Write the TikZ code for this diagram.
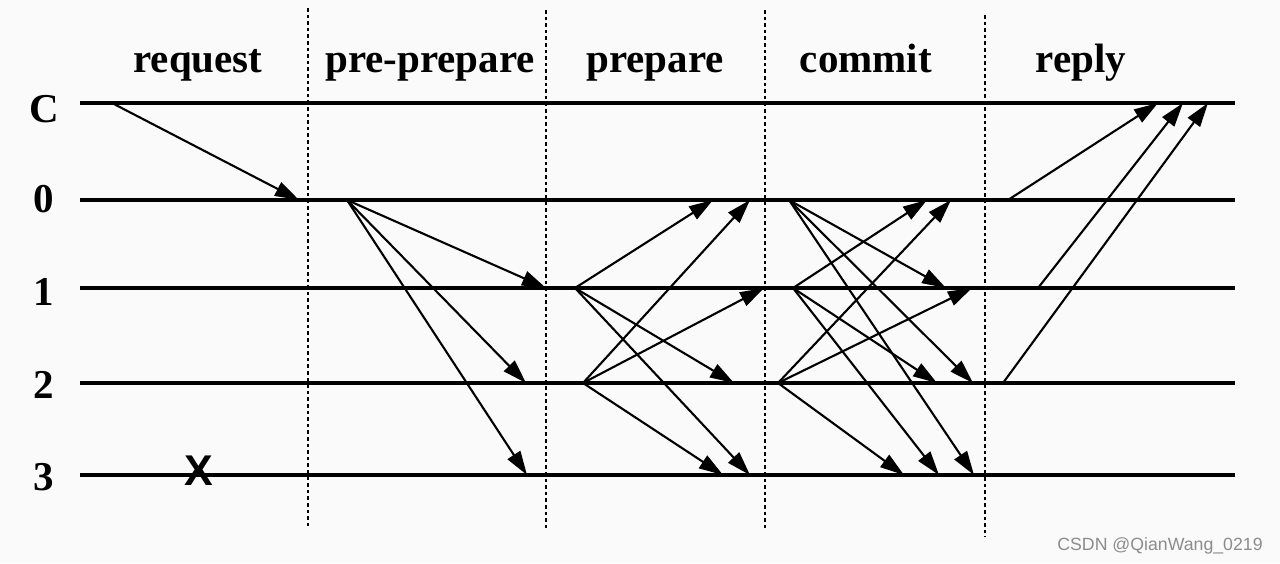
\documentclass[tikz,border=0pt]{standalone}
\usepackage{fontspec}
\setmainfont{Liberation Serif}
\setsansfont{Liberation Sans}
\usetikzlibrary{arrows.meta}
\definecolor{bgcol}{RGB}{250,250,250}
\definecolor{markcol}{RGB}{140,140,140}
\begin{document}
\begin{tikzpicture}[x=0.5pt,y=-0.5pt,
  phase/.style={font=\fontsize{20.5}{24}\selectfont\bfseries, anchor=base, inner sep=0pt},
  rowlab/.style={font=\fontsize{20.5}{24}\selectfont\bfseries, anchor=base, inner sep=0pt},
  failmark/.style={font=\sffamily\bfseries\fontsize{21.5}{24}\selectfont, anchor=center, inner sep=0pt},
  timeline/.style={line width=2.2pt},
  divider/.style={line width=1.1pt, dash pattern=on 1.8pt off 1.5pt},
  msg/.style={line width=1.05pt, -{Triangle[length=12pt,width=7.5pt]}},
  wmark/.style={font=\sffamily\fontsize{8.85}{10}\selectfont, text=markcol, anchor=base, inner sep=0pt}]
\useasboundingbox (0,0) rectangle (1280,563);
\fill[bgcol] (0,0) rectangle (1280,563);

% dividers
\coordinate (d1t) at (308,8);   \coordinate (d1b) at (308,528);
\coordinate (d2t) at (546,10);  \coordinate (d2b) at (546,531);
\coordinate (d3t) at (765,10);  \coordinate (d3b) at (765,531);
\coordinate (d4t) at (985,15);  \coordinate (d4b) at (985,537);
\draw[divider] (d1t) -- (d1b);
\draw[divider] (d2t) -- (d2b);
\draw[divider] (d3t) -- (d3b);
\draw[divider] (d4t) -- (d4b);

% phase labels
\node[phase] (hreq) at (198,72) {request};
\node[phase] (hpp)  at (430,72) {pre-prepare};
\node[phase] (hpa)  at (655,72) {prepare};
\node[phase] (hcm)  at (866,72) {commit};
\node[phase] (hrp)  at (1081,72) {reply};

% row labels
\node[rowlab] (lC) at (44,122) {C};
\node[rowlab] (l0) at (44,212) {0};
\node[rowlab] (l1) at (44,305) {1};
\node[rowlab] (l2) at (44,398) {2};
\node[rowlab] (l3) at (44,490) {3};

% timelines
\coordinate (tCs) at (80,103);  \coordinate (tCe) at (1235,103);
\coordinate (t0s) at (80,200);  \coordinate (t0e) at (1235,200);
\coordinate (t1s) at (80,288);  \coordinate (t1e) at (1235,288);
\coordinate (t2s) at (80,383);  \coordinate (t2e) at (1235,383);
\coordinate (t3s) at (80,475);  \coordinate (t3e) at (1235,475);
\draw[timeline] (tCs) -- (tCe);
\draw[timeline] (t0s) -- (t0e);
\draw[timeline] (t1s) -- (t1e);
\draw[timeline] (t2s) -- (t2e);
\draw[timeline] (t3s) -- (t3e);

% failed replica
\node[failmark] (x3) at (199,471) {X};

% request
\coordinate (rqC) at (112,103); \coordinate (rq0) at (299,200);
\draw[msg] (rqC) -- (rq0);

% pre-prepare
\coordinate (pp0) at (347,200);
\coordinate (pp1) at (546,288);
\coordinate (pp2) at (526,383);
\coordinate (pp3) at (527,475);
\draw[msg] (pp0) -- (pp1);
\draw[msg] (pp0) -- (pp2);
\draw[msg] (pp0) -- (pp3);

% prepare
\coordinate (pa1) at (575,288);
\coordinate (pa2) at (583,383);
\coordinate (pa10) at (713,200);
\coordinate (pa12) at (734,383);
\coordinate (pa13) at (750,475);
\coordinate (pa20) at (750,200);
\coordinate (pa21) at (764,288);
\coordinate (pa23) at (723,475);
\draw[msg] (pa1) -- (pa10);
\draw[msg] (pa1) -- (pa12);
\draw[msg] (pa1) -- (pa13);
\draw[msg] (pa2) -- (pa20);
\draw[msg] (pa2) -- (pa21);
\draw[msg] (pa2) -- (pa23);

% commit
\coordinate (cm0) at (789,200);
\coordinate (cm1) at (793,288);
\coordinate (cm2) at (778,383);
\coordinate (cm01) at (946,288);
\coordinate (cm02) at (973,383);
\coordinate (cm03) at (974,475);
\coordinate (cm10) at (927,200);
\coordinate (cm12) at (937,383);
\coordinate (cm13) at (939,475);
\coordinate (cm20) at (951,200);
\coordinate (cm21) at (972,288);
\coordinate (cm23) at (904,475);
\draw[msg] (cm0) -- (cm01);
\draw[msg] (cm0) -- (cm02);
\draw[msg] (cm0) -- (cm03);
\draw[msg] (cm1) -- (cm10);
\draw[msg] (cm1) -- (cm12);
\draw[msg] (cm1) -- (cm13);
\draw[msg] (cm2) -- (cm20);
\draw[msg] (cm2) -- (cm21);
\draw[msg] (cm2) -- (cm23);

% reply
\coordinate (rp0) at (1008,200);  \coordinate (rpC0) at (1158,103);
\coordinate (rp1) at (1038,288);  \coordinate (rpC1) at (1183,103);
\coordinate (rp2) at (1003,383);  \coordinate (rpC2) at (1208,103);
\draw[msg] (rp0) -- (rpC0);
\draw[msg] (rp1) -- (rpC1);
\draw[msg] (rp2) -- (rpC2);

% watermark
\node[wmark] (wm) at (1160,550) {CSDN @QianWang\_0219};
\end{tikzpicture}
\end{document}
